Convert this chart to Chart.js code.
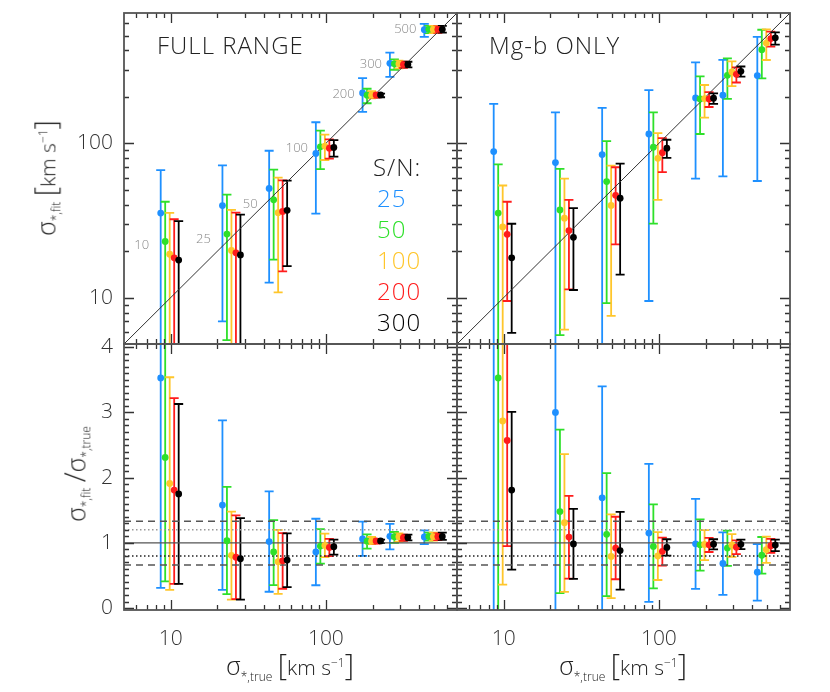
<!DOCTYPE html>
<html>
<head>
<meta charset="utf-8">
<script src="https://cdn.jsdelivr.net/npm/chart.js@4.4.0/dist/chart.umd.min.js"></script>
<style>
  body { margin: 0; background: #fff; width: 830px; height: 692px; position: relative; overflow: hidden;
         font-family: "Open Sans", "DejaVu Sans", sans-serif; font-weight: 300; color: #222; }
  canvas { position: absolute; left: 0; top: 0; }
  .t { position: absolute; white-space: nowrap; transform: translate(0, -50%); line-height: 1; }
  .c { transform: translate(-50%, -50%); }
  .r { transform: translate(-50%, -50%) rotate(-90deg); }
  .big { font-size: 24px; letter-spacing: 1px; }
  .ax { font-size: 21px; }
  .ax .s { font-size: 25px; }
  .ax .b { font-size: 29px; }
  .ax sub, .ax sup { font-size: 12px; }
</style>
</head>
<body>
<canvas id="tl" width="830" height="692"></canvas>
<canvas id="tr" width="830" height="692"></canvas>
<canvas id="bl" width="830" height="692"></canvas>
<canvas id="br" width="830" height="692"></canvas>

<div class="t big" style="left:157px;top:45px">FULL RANGE</div>
<div class="t big" style="left:489px;top:45px">Mg-b ONLY</div>
<div class="t big" style="left:373px;top:167px">S/N:</div>
<div id="snLegend"></div>

<div class="t c ax" style="left:290px;top:666px"><span class="s">σ</span><sub>*,true</sub> <span class="b">[</span>km s<sup>−1</sup><span class="b">]</span></div>
<div class="t c ax" style="left:623px;top:666px"><span class="s">σ</span><sub>*,true</sub> <span class="b">[</span>km s<sup>−1</sup><span class="b">]</span></div>
<div class="t r ax" style="left:46px;top:178px"><span class="s">σ</span><sub>*,fit</sub> <span class="b">[</span>km s<sup>−1</sup><span class="b">]</span></div>
<div class="t r ax" style="left:76px;top:474px"><span class="s">σ</span><sub>*,fit</sub> <span class="b">/</span><span class="s">σ</span><sub>*,true</sub></div>

<script>
// true dispersions [km/s] and S/N levels
const sigmaTrue = [10, 25, 50, 100, 200, 300, 500];
const snLevels = [25, 50, 100, 200, 300];

// FULL RANGE: fitted sigma and error range [km/s], one row per S/N
const fullFit = [
  [35.3, 39.5, 51, 86, 212, 330, 545],
  [23.1, 25.8, 43, 95, 205, 328, 549],
  [19.1, 20.2, 35.5, 96, 205, 328, 548],
  [18.1, 19.5, 36.2, 93, 206, 324, 548],
  [17.5, 18.9, 36.8, 94, 206, 325, 549]
];
const fullLo = [
  [3.1, 7.0, 12.5, 35, 160, 270, 490],
  [4.1, 5.3, 17.6, 68, 182, 300, 518],
  [2.8, 3.2, 10.8, 78, 196, 306, 518],
  [3.7, 3.4, 14.8, 79.5, 198, 309, 521],
  [3.7, 3.2, 16, 82, 199, 311, 523]
];
const fullHi = [
  [67, 72, 89.5, 137, 265, 387, 595],
  [41.8, 46.5, 67.5, 121, 226, 350, 578],
  [35.4, 37, 60, 114, 218, 344, 578],
  [32.2, 35.5, 57.5, 106, 212, 338, 573],
  [31.3, 34.5, 57.3, 105, 210, 338, 578]
];

// Mg-b ONLY
const mgbFit = [
  [88.4, 75, 84.5, 115, 197, 205, 275],
  [35.3, 37, 56.5, 94.5, 194, 276, 405],
  [28.7, 32.7, 39.6, 80, 195, 290, 447],
  [25.7, 27.2, 46, 87, 194, 280, 478],
  [18.1, 24.6, 44.1, 93, 196, 293, 483]
];
const mgbLo = [
  [-3, -5, -5, 9.5, 59, 61, 57],
  [-1, 5.7, 9.2, 30.2, 115, 194, 264],
  [3.6, 6.2, 7.6, 43, 147, 235, 347],
  [9.5, 11.3, 22.1, 65, 172, 248, 424],
  [5.9, 11.2, 14.1, 80.5, 180, 271, 437]
];
const mgbHi = [
  [180, 159, 170, 221, 335, 348, 490],
  [73, 68.4, 103.5, 159, 272, 356, 545],
  [53.3, 59, 71.8, 116.5, 239, 340, 548],
  [41.8, 43, 70, 108, 215, 311, 530],
  [30.1, 38, 73.8, 105.5, 211, 315, 524]
];

// axis ticks and reference levels
const logTicks = [10, 100];
const ratioTicks = [0, 1, 2, 3, 4];
const ratioSolid = [1];
const ratioDotted = [1.2, 0.8];
const ratioDashed = [1.33, 0.66];

// styling
const snColors = ['#1e90ff', '#2ee02a', '#ffc62b', '#ff1c1c', '#000000'];
const DODGE = 1.069, CENTER = 0.985;
const LOG = { min: 5, max: 700 };
const RATIO = { min: -0.03, max: 4.05 };
const FONT = '"Open Sans", "DejaVu Sans", sans-serif';

document.getElementById('snLegend').innerHTML = snLevels.map((sn, k) =>
  `<div class="t big" style="left:377px;top:${198 + k * 31}px;color:${snColors[k]}">${sn}</div>`).join('');

function snDatasets(fit, lo, hi, ratio) {
  return snLevels.map((sn, k) => {
    const f = (v, i) => ratio ? v / sigmaTrue[i] : v;
    return {
      label: 'S/N ' + sn,
      data: fit[k].map((v, i) => ({ x: sigmaTrue[i] * CENTER * Math.pow(DODGE, k - 2), y: f(v, i) })),
      errLo: lo[k].map(f),
      errHi: hi[k].map(f),
      backgroundColor: snColors[k],
      borderColor: snColors[k],
      pointRadius: 3.4,
      pointBorderWidth: 0,
      showLine: false,
      order: 5 - k
    };
  });
}

function refLine(pts, color, dash, width) {
  return { type: 'line', data: pts, borderColor: color, borderDash: dash, borderWidth: width,
           pointRadius: 0, showLine: true, order: 20 };
}

function minorLog() {
  const out = [];
  [1, 10, 100].forEach(d => { for (let m = 2; m <= 9; m++) { const v = m * d; if (v > LOG.min && v < LOG.max) out.push(v); } });
  return out;
}
function minorRatio() {
  const out = [];
  for (let i = 0; i <= 40; i++) if (i % 10) out.push(i / 10);
  return out;
}

const panelDeco = {
  id: 'panelDeco',
  beforeDatasetsDraw(chart) {
    const { ctx, chartArea: a, scales: { x, y } } = chart;
    const pix = v => (y.type === 'logarithmic' && v <= 0) ? a.bottom + 40 : y.getPixelForValue(v);
    ctx.save();
    ctx.beginPath();
    ctx.rect(a.left, a.top, a.right - a.left, a.bottom - a.top);
    ctx.clip();
    ctx.lineWidth = 1.8;
    chart.data.datasets.forEach(ds => {
      if (!ds.errLo) return;
      ctx.strokeStyle = ds.borderColor;
      ds.data.forEach((p, i) => {
        const px = x.getPixelForValue(p.x);
        const y1 = pix(ds.errHi[i]), y2 = pix(ds.errLo[i]);
        ctx.beginPath();
        ctx.moveTo(px, y1); ctx.lineTo(px, y2);
        ctx.moveTo(px - 4.5, y1); ctx.lineTo(px + 4.5, y1);
        ctx.moveTo(px - 4.5, y2); ctx.lineTo(px + 4.5, y2);
        ctx.stroke();
      });
    });
    ctx.restore();
  },
  afterDraw(chart, args, opts) {
    const { ctx, chartArea: a, scales: { x, y } } = chart;
    ctx.save();
    // ticks inside on all four sides
    ctx.strokeStyle = '#333';
    ctx.lineWidth = 1.3;
    const xMaj = logTicks, xMin = minorLog();
    const yMaj = y.type === 'logarithmic' ? logTicks : ratioTicks;
    const yMin = y.type === 'logarithmic' ? minorLog() : minorRatio();
    ctx.beginPath();
    [[xMaj, 10], [xMin, 5]].forEach(([vals, len]) => vals.forEach(v => {
      const px = Math.round(x.getPixelForValue(v)) + 0.5;
      ctx.moveTo(px, a.bottom); ctx.lineTo(px, a.bottom - len);
      ctx.moveTo(px, a.top); ctx.lineTo(px, a.top + len);
    }));
    [[yMaj, 10], [yMin, 5]].forEach(([vals, len]) => vals.forEach(v => {
      const py = Math.round(y.getPixelForValue(v)) + 0.5;
      ctx.moveTo(a.left, py); ctx.lineTo(a.left + len, py);
      ctx.moveTo(a.right, py); ctx.lineTo(a.right - len, py);
    }));
    ctx.stroke();
    // frame
    ctx.strokeStyle = '#555';
    ctx.lineWidth = 1.8;
    ctx.strokeRect(a.left, a.top, a.right - a.left, a.bottom - a.top);
    // tick labels
    ctx.fillStyle = '#333';
    ctx.font = '300 21px ' + FONT;
    if (opts.yLabels) {
      ctx.textAlign = 'right'; ctx.textBaseline = 'middle';
      yMaj.forEach(v => ctx.fillText(String(v), a.left - 11, y.getPixelForValue(v)));
    }
    if (opts.xLabels) {
      ctx.textAlign = 'center'; ctx.textBaseline = 'middle';
      xMaj.forEach(v => ctx.fillText(String(v), x.getPixelForValue(v), a.bottom + 29));
    }
    // sigma_true labels next to each group
    if (opts.groupFit) {
      ctx.fillStyle = '#888';
      ctx.font = '300 13px ' + FONT;
      ctx.textAlign = 'center'; ctx.textBaseline = 'middle';
      sigmaTrue.forEach((s, i) => {
        const gm = Math.exp(opts.groupFit.reduce((acc, row) => acc + Math.log(row[i]), 0) / opts.groupFit.length);
        ctx.fillText(String(s), x.getPixelForValue(s * 0.65), y.getPixelForValue(gm));
      });
    }
    ctx.restore();
  }
};

function makePanel(id, area, ratio, fit, lo, hi, deco) {
  const datasets = snDatasets(fit, lo, hi, ratio);
  if (ratio) {
    ratioSolid.forEach(v => datasets.push(refLine([{ x: LOG.min, y: v }, { x: LOG.max, y: v }], '#555', [], 1.4)));
    datasets.push(refLine([{ x: LOG.min, y: ratioDotted[0] }, { x: LOG.max, y: ratioDotted[0] }], '#999', [1.5, 2.5], 1.5));
    datasets.push(refLine([{ x: LOG.min, y: ratioDotted[1] }, { x: LOG.max, y: ratioDotted[1] }], '#222', [1.5, 2.5], 1.5));
    ratioDashed.forEach(v => datasets.push(refLine([{ x: LOG.min, y: v }, { x: LOG.max, y: v }], '#555', [7, 5], 1.5)));
  } else {
    datasets.push(refLine([{ x: LOG.min, y: LOG.min }, { x: LOG.max, y: LOG.max }], '#333', [], 1));
  }
  return new Chart(document.getElementById(id), {
    type: 'scatter',
    data: { datasets },
    options: {
      responsive: false,
      animation: false,
      layout: { padding: { left: area.l, top: area.t, right: 830 - area.r, bottom: 692 - area.b } },
      scales: {
        x: { type: 'logarithmic', min: LOG.min, max: LOG.max, display: false },
        y: ratio ? { type: 'linear', min: RATIO.min, max: RATIO.max, display: false }
                 : { type: 'logarithmic', min: LOG.min, max: LOG.max, display: false }
      },
      plugins: { legend: { display: false }, tooltip: { enabled: false }, panelDeco: deco }
    },
    plugins: [panelDeco]
  });
}

makePanel('tl', { l: 124, t: 13, r: 457, b: 344 }, false, fullFit, fullLo, fullHi, { yLabels: true, groupFit: fullFit });
makePanel('tr', { l: 457, t: 13, r: 790, b: 344 }, false, mgbFit, mgbLo, mgbHi, {});
makePanel('bl', { l: 124, t: 344, r: 457, b: 610 }, true, fullFit, fullLo, fullHi, { yLabels: true, xLabels: true });
makePanel('br', { l: 457, t: 344, r: 790, b: 610 }, true, mgbFit, mgbLo, mgbHi, { xLabels: true });
</script>
</body>
</html>
